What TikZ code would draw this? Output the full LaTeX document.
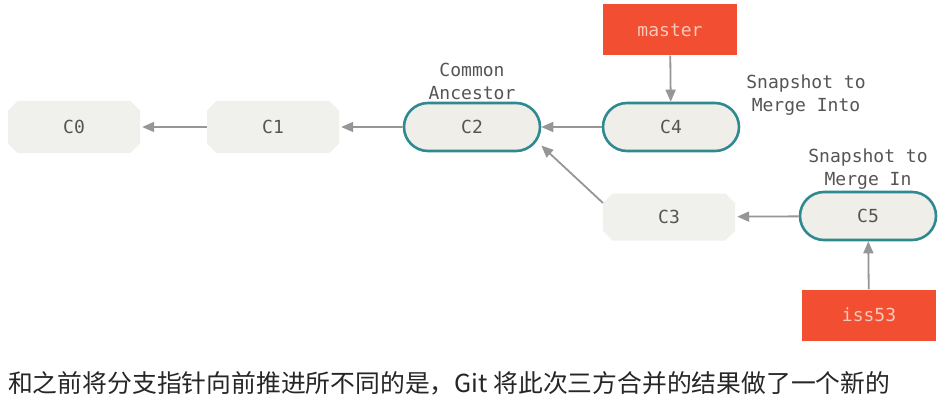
\documentclass[tikz,border=0pt]{standalone}
\usepackage{fontspec}
\setmonofont{DejaVu Sans Mono}
\newfontfamily\cjk{Noto Sans CJK SC}
\usetikzlibrary{arrows.meta,shapes.misc}
\definecolor{teal}{RGB}{46,137,144}
\definecolor{gitred}{RGB}{241,78,50}
\definecolor{pillfill}{RGB}{239,238,233}
\definecolor{oldfill}{RGB}{240,240,237}
\definecolor{arrowgray}{RGB}{150,150,150}
\definecolor{labelgray}{RGB}{85,85,85}
\definecolor{reftext}{RGB}{250,200,185}
\begin{document}
\begin{tikzpicture}[x=1pt,y=-1pt,
  font=\ttfamily\fontsize{18}{21}\selectfont,
  oldcommit/.style={chamfered rectangle, chamfered rectangle xsep=9pt, fill=oldfill, draw=none,
    minimum width=132pt, minimum height=52pt, inner sep=0pt, text=labelgray},
  pill/.style={rectangle, rounded corners=24pt, fill=pillfill, draw=teal, line width=2.6pt,
    minimum width=136pt, minimum height=48pt, inner sep=0pt, text=labelgray},
  branchref/.style={rectangle, fill=gitred, draw=none, minimum width=134pt, minimum height=51pt,
    inner sep=0pt, text=reftext},
  annot/.style={align=center, text=labelgray, inner sep=0pt, font=\ttfamily\fontsize{18}{23}\selectfont},
  link/.style={draw=arrowgray, line width=1.8pt, -{Triangle[length=12pt,width=10pt]}}
]
\useasboundingbox (0,0) rectangle (950,409);
\fill[white] (0,0) rectangle (950,409);

\node[oldcommit] (C0) at (74,127) {C0};
\node[oldcommit] (C1) at (273,127) {C1};
\node[pill] (C2) at (472,127) {C2};
\node[pill] (C4) at (671,127) {C4};
\node[oldcommit, minimum height=47pt] (C3) at (669,217) {C3};
\node[pill] (C5) at (868,216) {C5};
\node[branchref] (master) at (670,30) {master};
\node[branchref] (iss53) at (869,315) {iss53};

\node[annot] (lca) at (472,81) {Common\\Ancestor};
\node[annot] (linto) at (806,95) {Snapshot to\\Merge Into};
\node[annot] (lin) at (868,169) {Snapshot to\\Merge In};

\draw[link, shorten >=2pt] (C1) -- (C0);
\draw[link, shorten >=2pt] (C2) -- (C1);
\draw[link] (C4) -- (C2);
\draw[link] (C3.168) -- (C2.-15);
\draw[link, shorten >=2pt] (C5) -- (C3);
\draw[link] (master) -- (C4);
\draw[link] (iss53) -- (C5);

\node[anchor=west, inner sep=0pt, text=black!85, font=\cjk\fontsize{24.8}{28}\selectfont] (caption) at (8,383)
  {和之前将分支指针向前推进所不同的是，Git 将此次三方合并的结果做了一个新的};
\end{tikzpicture}
\end{document}
